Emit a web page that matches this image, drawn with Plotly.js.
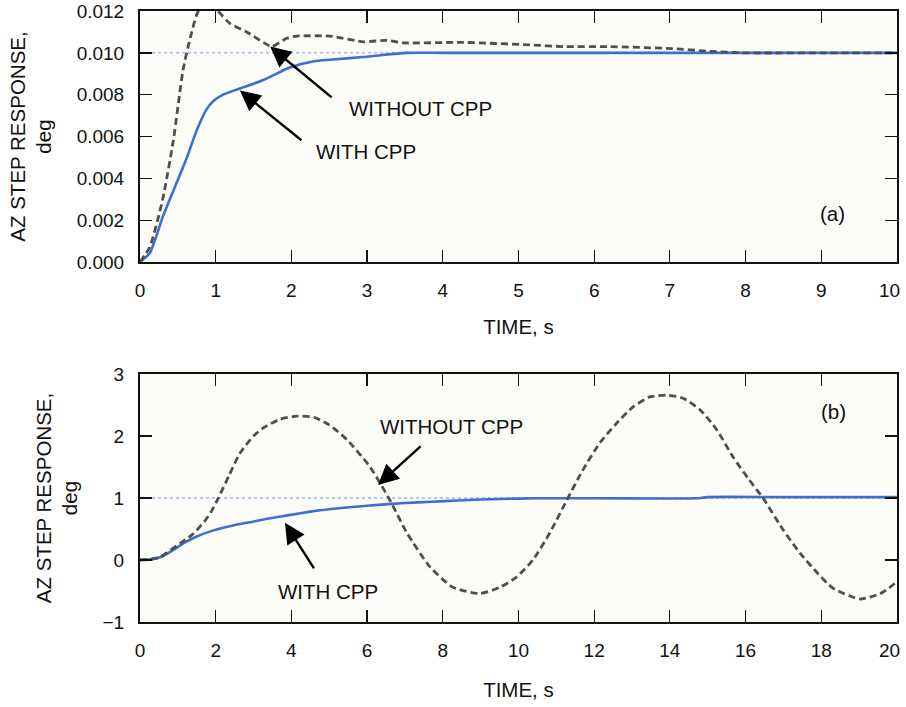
<!DOCTYPE html>
<html>
<head>
<meta charset="utf-8">
<script src="https://cdn.plot.ly/plotly-3.0.1.min.js"></script>
<style>
  html, body { margin: 0; padding: 0; background: #ffffff; }
  #chart { width: 906px; height: 707px; }
</style>
</head>
<body>
<div id="chart"></div>
<script>
// ---- Panel (a): small step, 0-10 s ----
const tA_without = [0, 0.13, 0.3, 0.44, 0.57, 0.67, 0.77, 0.9, 1.03, 1.19, 1.41, 1.63, 1.74, 1.94, 2.07, 2.51, 2.95, 3.26, 3.47, 4.27, 5.15, 5.6, 6.2, 7.04, 7.5, 8.0, 9.0, 10.0];
const yA_without = [0, 0.00072, 0.0030, 0.0058, 0.0092, 0.0108, 0.0120, 0.0124, 0.0120, 0.0114, 0.0110, 0.0105, 0.0103, 0.0107, 0.0108, 0.0108, 0.01053, 0.0106, 0.01048, 0.0105, 0.01038, 0.0103, 0.0103, 0.0102, 0.01008, 0.0100, 0.0100, 0.0100];

const tA_with = [0, 0.13, 0.3, 0.44, 0.62, 0.75, 0.88, 0.97, 1.1, 1.32, 1.63, 1.98, 2.3, 2.51, 2.95, 3.2, 3.53, 4.0, 5.0, 6.0, 7.0, 8.0, 9.0, 10.0];
const yA_with = [0, 0.00043, 0.00215, 0.0034, 0.0050, 0.0063, 0.0073, 0.0077, 0.0080, 0.0083, 0.0087, 0.0093, 0.0096, 0.00967, 0.0098, 0.0099, 0.0100, 0.0100, 0.0100, 0.0100, 0.0100, 0.0100, 0.0100, 0.0100];

const tA_command = [0, 10];
const yA_command = [0.010, 0.010];

// ---- Panel (b): large step, 0-20 s ----
const tB_without = [0, 0.5, 1.06, 1.4, 1.7, 1.9, 2.07, 2.35, 2.64, 3.0, 3.26, 3.7, 4.14, 4.6, 5.0, 5.47, 6.08, 6.6, 7.05, 7.66, 8.27, 8.98, 9.51, 9.96, 10.38, 10.83, 11.28, 11.7, 12.15, 12.6, 13.03, 13.47, 13.92, 14.35, 14.8, 15.24, 15.67, 16.1, 16.46, 17.0, 17.44, 17.9, 18.3, 19.02, 19.6, 20.0];
const yB_without = [0, 0.04, 0.27, 0.42, 0.62, 0.8, 1.0, 1.36, 1.72, 2.0, 2.13, 2.27, 2.32, 2.3, 2.18, 1.94, 1.5, 0.97, 0.44, -0.11, -0.44, -0.54, -0.44, -0.27, 0.0, 0.44, 0.97, 1.45, 1.89, 2.21, 2.47, 2.63, 2.66, 2.61, 2.42, 2.1, 1.66, 1.29, 1.0, 0.48, 0.11, -0.21, -0.45, -0.63, -0.53, -0.35];

const tB_with = [0, 0.3, 0.6, 0.9, 1.2, 1.5, 1.9, 2.4, 2.9, 3.4, 3.9, 4.5, 5.0, 5.7, 6.3, 7.0, 7.7, 8.4, 9.0, 9.5, 10.5, 12.0, 14.7, 15.0, 17.0, 20.0];
const yB_with = [0, 0.01, 0.06, 0.17, 0.29, 0.38, 0.47, 0.55, 0.61, 0.67, 0.72, 0.78, 0.82, 0.86, 0.89, 0.92, 0.94, 0.96, 0.975, 0.985, 0.995, 0.995, 0.995, 1.015, 1.015, 1.015];

const tB_command = [0, 20];
const yB_command = [1, 1];

// Tick labels
const ticksA_x = [0, 1, 2, 3, 4, 5, 6, 7, 8, 9, 10];
const ticksA_xtext = ['0', '1', '2', '3', '4', '5', '6', '7', '8', '9', '10'];
const ticksA_y = [0, 0.002, 0.004, 0.006, 0.008, 0.010, 0.012];
const ticksA_ytext = ['0.000', '0.002', '0.004', '0.006', '0.008', '0.010', '0.012'];
const ticksB_x = [0, 2, 4, 6, 8, 10, 12, 14, 16, 18, 20];
const ticksB_xtext = ['0', '2', '4', '6', '8', '10', '12', '14', '16', '18', '20'];
const ticksB_y = [-1, 0, 1, 2, 3];
const ticksB_ytext = ['\u22121', '0', '1', '2', '3'];

const FONT = 'Liberation Sans, Arial, Helvetica, sans-serif';
const BLUE = '#3d6fce';
const GREY = '#4f4f4f';
const CMD = '#b5c5e8';

const commandLine = { color: CMD, width: 2, dash: 'dot' };
const withoutLine = { color: GREY, width: 2.8, dash: '7px,4px', shape: 'spline', smoothing: 0.6 };
const withLine = { color: BLUE, width: 2.6, shape: 'spline', smoothing: 0.6 };

const traces = [
  { x: tA_command, y: yA_command, xaxis: 'x', yaxis: 'y', mode: 'lines', line: commandLine, hoverinfo: 'skip' },
  { x: tA_with, y: yA_with, xaxis: 'x', yaxis: 'y', mode: 'lines', line: withLine, name: 'WITH CPP' },
  { x: tA_without, y: yA_without, xaxis: 'x', yaxis: 'y', mode: 'lines', line: withoutLine, name: 'WITHOUT CPP' },
  { x: tB_command, y: yB_command, xaxis: 'x2', yaxis: 'y2', mode: 'lines', line: commandLine, hoverinfo: 'skip' },
  { x: tB_with, y: yB_with, xaxis: 'x2', yaxis: 'y2', mode: 'lines', line: withLine, name: 'WITH CPP' },
  { x: tB_without, y: yB_without, xaxis: 'x2', yaxis: 'y2', mode: 'lines', line: withoutLine, name: 'WITHOUT CPP' }
];

const TICK_SIZE = 19;
const axisCommon = {
  showline: true, linecolor: '#111111', linewidth: 2, mirror: 'ticks',
  ticks: 'inside', ticklen: 12, tickwidth: 1.3, tickcolor: '#111111',
  showgrid: false, zeroline: false, fixedrange: true,
  tickfont: { family: FONT, size: TICK_SIZE, color: '#111111' },
  ticklabelstandoff: 10
};

// The label at the right end of each time axis sits against the page edge,
// so it is drawn as an annotation nudged slightly left of its tick.
function withoutLast(arr) { return arr.slice(0, -1).concat(['']); }
function endLabel(xref, xval, text, yPaper) {
  return { xref: xref, yref: 'paper', x: xval, y: yPaper, text: text,
           xanchor: 'center', yanchor: 'middle', xshift: -7, showarrow: false,
           font: { family: FONT, size: TICK_SIZE, color: '#111111' } };
}

const titleFont = { family: FONT, size: 20.5, color: '#111111' };
const yTitle = 'AZ STEP RESPONSE,<br>deg';

function label(xref, yref, x, y, text) {
  return { xref: xref, yref: yref, x: x, y: y, text: text, showarrow: false,
           font: { family: FONT, size: 20.5, color: '#111111' } };
}
function arrow(xref, yref, x, y, ax, ay) {
  return { xref: xref, yref: yref, x: x, y: y, ax: ax, ay: ay, text: '',
           showarrow: true, arrowhead: 2, arrowsize: 1.7, arrowwidth: 2.4,
           arrowcolor: '#000000', standoff: 0 };
}

const layout = {
  width: 906, height: 707,
  margin: { l: 0, r: 0, t: 0, b: 0 },
  paper_bgcolor: '#ffffff',
  plot_bgcolor: '#fcfcf8',
  showlegend: false,
  xaxis: Object.assign({}, axisCommon, {
    domain: [0.1545, 0.990], anchor: 'y', range: [0, 10],
    tickvals: ticksA_x, ticktext: withoutLast(ticksA_xtext), automargin: false,
    title: { text: 'TIME, s', font: titleFont, standoff: 20 }
  }),
  yaxis: Object.assign({}, axisCommon, {
    domain: [0.6294, 0.9844], anchor: 'x', range: [0, 0.012],
    tickvals: ticksA_y, ticktext: ticksA_ytext, automargin: false,
    title: { text: yTitle, font: titleFont, standoff: 19 }
  }),
  xaxis2: Object.assign({}, axisCommon, {
    domain: [0.1545, 0.990], anchor: 'y2', range: [0, 20],
    tickvals: ticksB_x, ticktext: withoutLast(ticksB_xtext), automargin: false,
    title: { text: 'TIME, s', font: titleFont, standoff: 23 }
  }),
  yaxis2: Object.assign({}, axisCommon, {
    domain: [0.1202, 0.471], anchor: 'x2', range: [-1, 3],
    tickvals: ticksB_y, ticktext: ticksB_ytext, automargin: false,
    title: { text: yTitle, font: titleFont, standoff: 19 }
  }),
  annotations: [
    endLabel('x', ticksA_x[ticksA_x.length - 1], ticksA_xtext[ticksA_xtext.length - 1], 0.5898),
    endLabel('x2', ticksB_x[ticksB_x.length - 1], ticksB_xtext[ticksB_xtext.length - 1], 0.0806),
    label('x', 'y', 3.71, 0.00736, 'WITHOUT CPP'),
    arrow('x', 'y', 1.72, 0.0103, 63, 52),
    label('x', 'y', 2.99, 0.0053, 'WITH CPP'),
    arrow('x', 'y', 1.32, 0.0082, 63, 51),
    label('x', 'y', 9.15, 0.00234, '(a)'),
    label('x2', 'y2', 8.22, 2.16, 'WITHOUT CPP'),
    arrow('x2', 'y2', 6.29, 1.21, 44, -40),
    label('x2', 'y2', 4.97, -0.5, 'WITH CPP'),
    arrow('x2', 'y2', 3.83, 0.6, 30, 47),
    label('x2', 'y2', 18.33, 2.4, '(b)')
  ]
};

Plotly.newPlot('chart', traces, layout, { displayModeBar: false, staticPlot: true });
</script>
</body>
</html>
